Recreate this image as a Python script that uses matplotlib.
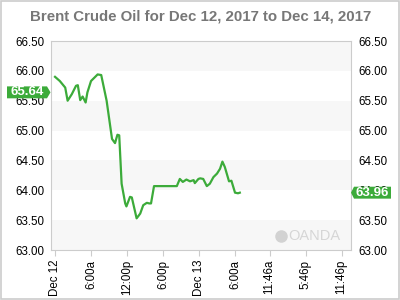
import numpy as np
import matplotlib
matplotlib.use("Agg")
import matplotlib.pyplot as plt
from matplotlib.patches import Rectangle, Polygon
from matplotlib.transforms import blended_transform_factory

# hours since Dec 12 00:00
hours = [0.0, 0.8, 1.7, 2.1, 2.8, 3.5, 3.8, 4.2, 4.6, 5.1, 5.4, 6.0, 7.1, 7.7,
         8.6, 9.5, 10.0, 10.4, 10.7, 11.1, 11.7, 11.9, 12.5, 12.8, 13.6, 14.2,
         14.7, 15.3, 15.7, 16.0, 16.5, 16.9, 20.3, 20.8, 21.3, 21.9, 22.5, 23.1,
         23.3, 23.9, 24.2, 24.7, 25.3, 25.8, 26.4, 27.0, 27.5, 27.9, 28.3, 29.0,
         29.4, 30.0, 30.5, 30.8]
prices = [65.90, 65.83, 65.72, 65.50, 65.61, 65.75, 65.76, 65.51, 65.57, 65.47,
          65.64, 65.83, 65.94, 65.93, 65.50, 64.86, 64.79, 64.93, 64.92, 64.11,
          63.78, 63.73, 63.89, 63.88, 63.53, 63.61, 63.75, 63.79, 63.78, 63.78,
          64.07, 64.07, 64.07, 64.19, 64.14, 64.18, 64.15, 64.17, 64.12, 64.19,
          64.20, 64.19, 64.07, 64.11, 64.22, 64.28, 64.36, 64.48, 64.39, 64.15,
          64.16, 63.96, 63.95, 63.96]

tick_pos = [0, 6, 12, 18, 24, 30, 35.77, 41.77, 47.77]
tick_labels = ["Dec 12", "6:00a", "12:00p", "6:00p", "Dec 13", "6:00a",
               "11:46a", "5:46p", "11:46p"]
y_ticks = [63.0, 63.5, 64.0, 64.5, 65.0, 65.5, 66.0, 66.5]
open_price = 65.64
last_price = 63.96

plt.rcParams['font.family'] = ['Liberation Sans', 'DejaVu Sans']
green = "#3cab3a"
grid_gray = "#cccccc"

fig = plt.figure(figsize=(4, 3), dpi=100)
fig.patch.set_facecolor("white")
fig.patches.append(Rectangle((0.0015, 0.002), 0.997, 0.996, transform=fig.transFigure,
                             fill=False, edgecolor=grid_gray, linewidth=1.2))

ax = fig.add_axes([51 / 400, 50 / 300, 300 / 400, 209 / 300])
ax.set_xlim(-0.67, 49.33)
ax.set_ylim(63.0, 66.5)

# alternating bands
for i in range(len(y_ticks) - 1):
    if i % 2 == 0:
        ax.axhspan(y_ticks[i], y_ticks[i + 1], color="#f7f7f7", zorder=0, lw=0)

ax.plot(hours, prices, color=green, linewidth=1.6, zorder=3)

for s in ax.spines.values():
    s.set_color(grid_gray)

ax.set_yticks(y_ticks)
ax.set_yticklabels(["%.2f" % v for v in y_ticks])
ax.tick_params(axis='y', length=0, labelsize=8.3, pad=5, labelright=True, right=True)
ax.set_xticks(tick_pos)
ax.set_xticklabels(tick_labels, rotation=90)
ax.tick_params(axis='x', length=4, color=grid_gray, labelsize=8.3, pad=3)

ax.text(0.5, 1.115, "Brent Crude Oil for Dec 12, 2017 to Dec 14, 2017",
        transform=ax.transAxes, ha='center', va='center', fontsize=10.8,
        fontweight='bold', color="#777777")

# price tags (box + small arrow)
ftrans = blended_transform_factory(fig.transFigure, ax.transData)
h = 0.1  # half height in price units
def tag(price, x0, x1, tip, side):
    if side == "right":
        pts = [(x0, price - h), (x1, price - h), (tip, price), (x1, price + h), (x0, price + h)]
    else:
        pts = [(x1, price - h), (x0, price - h), (tip, price), (x0, price + h), (x1, price + h)]
    fig.patches.append(Polygon(pts, closed=True, transform=ftrans, fc=green, ec="none",
                               zorder=5))
    xc = (x0 + x1) / 2
    fig.text(xc, price, "%.2f" % price, transform=ftrans, ha='center', va='center',
             fontsize=9.5, fontweight='bold', color="white", zorder=6)

tag(open_price, 7 / 400, 47 / 400, 50.5 / 400, "right")
tag(last_price, 354 / 400, 391 / 400, 351 / 400, "left")

ax.plot([0.765], [0.065], transform=ax.transAxes, marker='o', markersize=8,
        color="#d2d2d2", zorder=1)
ax.text(0.965, 0.065, "OANDA", transform=ax.transAxes, ha='right', va='center',
        fontsize=10.5, color="#d6d6d6", zorder=1)

fig.savefig("out.png", dpi=100)
